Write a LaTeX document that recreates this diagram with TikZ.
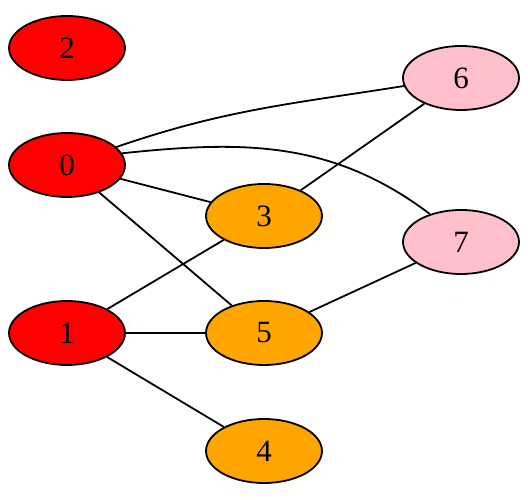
\documentclass[tikz,border=0pt]{standalone}
\usepackage{fontspec}
\setmainfont{Liberation Serif}
\usetikzlibrary{shapes.geometric}
\definecolor{gvorange}{HTML}{FFA500}
\definecolor{gvpink}{HTML}{FFC0CB}
\begin{document}
\begin{tikzpicture}[x=1pt,y=1pt,
  vert/.style={ellipse,draw=black,line width=1.8pt,minimum width=116pt,minimum height=64pt,inner sep=0pt,font=\fontsize{31}{36}\selectfont},
  edge/.style={line width=1.8pt}]
\useasboundingbox (0,0) rectangle (528,500);
\node[vert,fill=red] (n2) at (67,452) {2};
\node[vert,fill=red] (n0) at (67,335) {0};
\node[vert,fill=red] (n1) at (67,167) {1};
\node[vert,fill=gvorange] (n3) at (264,284) {3};
\node[vert,fill=gvorange] (n5) at (264,167) {5};
\node[vert,fill=gvorange] (n4) at (264,49) {4};
\node[vert,fill=gvpink] (n6) at (461,422) {6};
\node[vert,fill=gvpink] (n7) at (461,258) {7};
\draw[edge] (n0.20) to[out=19,in=189] (n6.188);
\draw[edge] (n0.12) to[out=6,in=143] (n7.138);
\draw[edge] (n0) -- (n3);
\draw[edge] (n0) -- (n5);
\draw[edge] (n1) -- (n3);
\draw[edge] (n1) -- (n5);
\draw[edge] (n1) -- (n4);
\draw[edge] (n3) -- (n6);
\draw[edge] (n5) -- (n7);
\end{tikzpicture}
\end{document}
